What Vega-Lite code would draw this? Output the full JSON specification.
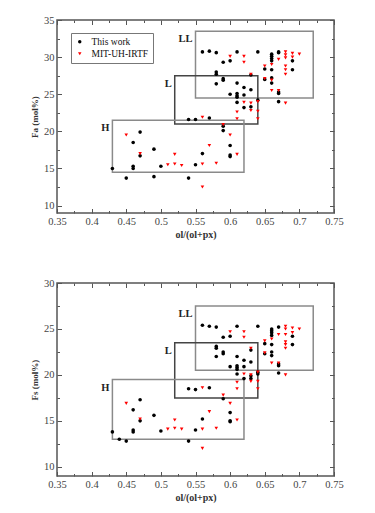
{
  "$schema": "https://vega.github.io/schema/vega-lite/v6.json",
  "background": "white",
  "padding": {"left": 29, "top": 14, "right": 5, "bottom": 5},
  "spacing": 36,
  "datasets": {
    "boxes": [
      {"panel": "Fa", "name": "LL", "x1": 0.55, "x2": 0.72, "y1": 24.5, "y2": 33.5},
      {"panel": "Fa", "name": "L", "x1": 0.52, "x2": 0.64, "y1": 21, "y2": 27.5},
      {"panel": "Fa", "name": "H", "x1": 0.43, "x2": 0.62, "y1": 14.5, "y2": 21.5},
      {"panel": "Fs", "name": "LL", "x1": 0.55, "x2": 0.72, "y1": 20.5, "y2": 27.5},
      {"panel": "Fs", "name": "L", "x1": 0.52, "x2": 0.64, "y1": 17.5, "y2": 23.5},
      {"panel": "Fs", "name": "H", "x1": 0.43, "x2": 0.62, "y1": 13, "y2": 19.5}
    ],
    "pts": [
      {"panel":"Fa","src":"This work","x":0.43,"y":15.0},
      {"panel":"Fa","src":"This work","x":0.45,"y":13.7},
      {"panel":"Fa","src":"This work","x":0.46,"y":18.5},
      {"panel":"Fa","src":"This work","x":0.46,"y":15.3},
      {"panel":"Fa","src":"This work","x":0.46,"y":15.0},
      {"panel":"Fa","src":"This work","x":0.47,"y":19.9},
      {"panel":"Fa","src":"This work","x":0.47,"y":16.7},
      {"panel":"Fa","src":"This work","x":0.49,"y":17.6},
      {"panel":"Fa","src":"This work","x":0.49,"y":13.9},
      {"panel":"Fa","src":"This work","x":0.50,"y":15.3},
      {"panel":"Fa","src":"This work","x":0.54,"y":13.7},
      {"panel":"Fa","src":"This work","x":0.54,"y":21.6},
      {"panel":"Fa","src":"This work","x":0.55,"y":21.6},
      {"panel":"Fa","src":"This work","x":0.55,"y":15.5},
      {"panel":"Fa","src":"This work","x":0.56,"y":30.7},
      {"panel":"Fa","src":"This work","x":0.56,"y":17.0},
      {"panel":"Fa","src":"This work","x":0.57,"y":30.8},
      {"panel":"Fa","src":"This work","x":0.57,"y":21.8},
      {"panel":"Fa","src":"This work","x":0.58,"y":30.6},
      {"panel":"Fa","src":"This work","x":0.58,"y":28.0},
      {"panel":"Fa","src":"This work","x":0.58,"y":27.7},
      {"panel":"Fa","src":"This work","x":0.58,"y":26.4},
      {"panel":"Fa","src":"This work","x":0.59,"y":29.3},
      {"panel":"Fa","src":"This work","x":0.59,"y":27.1},
      {"panel":"Fa","src":"This work","x":0.59,"y":26.9},
      {"panel":"Fa","src":"This work","x":0.59,"y":20.7},
      {"panel":"Fa","src":"This work","x":0.59,"y":20.1},
      {"panel":"Fa","src":"This work","x":0.60,"y":29.5},
      {"panel":"Fa","src":"This work","x":0.60,"y":25.0},
      {"panel":"Fa","src":"This work","x":0.60,"y":18.1},
      {"panel":"Fa","src":"This work","x":0.60,"y":16.8},
      {"panel":"Fa","src":"This work","x":0.60,"y":16.6},
      {"panel":"Fa","src":"This work","x":0.61,"y":30.7},
      {"panel":"Fa","src":"This work","x":0.61,"y":26.5},
      {"panel":"Fa","src":"This work","x":0.61,"y":25.1},
      {"panel":"Fa","src":"This work","x":0.61,"y":24.8},
      {"panel":"Fa","src":"This work","x":0.61,"y":24.6},
      {"panel":"Fa","src":"This work","x":0.61,"y":23.9},
      {"panel":"Fa","src":"This work","x":0.62,"y":25.9},
      {"panel":"Fa","src":"This work","x":0.62,"y":24.9},
      {"panel":"Fa","src":"This work","x":0.62,"y":23.2},
      {"panel":"Fa","src":"This work","x":0.63,"y":27.6},
      {"panel":"Fa","src":"This work","x":0.63,"y":25.6},
      {"panel":"Fa","src":"This work","x":0.63,"y":23.3},
      {"panel":"Fa","src":"This work","x":0.64,"y":30.7},
      {"panel":"Fa","src":"This work","x":0.64,"y":24.2},
      {"panel":"Fa","src":"This work","x":0.65,"y":28.4},
      {"panel":"Fa","src":"This work","x":0.65,"y":27.0},
      {"panel":"Fa","src":"This work","x":0.66,"y":30.4},
      {"panel":"Fa","src":"This work","x":0.66,"y":30.1},
      {"panel":"Fa","src":"This work","x":0.66,"y":29.8},
      {"panel":"Fa","src":"This work","x":0.66,"y":29.5},
      {"panel":"Fa","src":"This work","x":0.66,"y":28.3},
      {"panel":"Fa","src":"This work","x":0.66,"y":27.2},
      {"panel":"Fa","src":"This work","x":0.66,"y":26.5},
      {"panel":"Fa","src":"This work","x":0.67,"y":30.7},
      {"panel":"Fa","src":"This work","x":0.67,"y":30.6},
      {"panel":"Fa","src":"This work","x":0.67,"y":25.3},
      {"panel":"Fa","src":"This work","x":0.67,"y":25.1},
      {"panel":"Fa","src":"This work","x":0.67,"y":24.0},
      {"panel":"Fa","src":"This work","x":0.69,"y":29.5},
      {"panel":"Fa","src":"This work","x":0.69,"y":28.3},
      {"panel":"Fa","src":"MIT-UH-IRTF","x":0.45,"y":19.5},
      {"panel":"Fa","src":"MIT-UH-IRTF","x":0.47,"y":17.0},
      {"panel":"Fa","src":"MIT-UH-IRTF","x":0.51,"y":15.5},
      {"panel":"Fa","src":"MIT-UH-IRTF","x":0.52,"y":16.9},
      {"panel":"Fa","src":"MIT-UH-IRTF","x":0.52,"y":15.6},
      {"panel":"Fa","src":"MIT-UH-IRTF","x":0.53,"y":15.4},
      {"panel":"Fa","src":"MIT-UH-IRTF","x":0.56,"y":21.9},
      {"panel":"Fa","src":"MIT-UH-IRTF","x":0.56,"y":15.6},
      {"panel":"Fa","src":"MIT-UH-IRTF","x":0.56,"y":12.5},
      {"panel":"Fa","src":"MIT-UH-IRTF","x":0.57,"y":18.1},
      {"panel":"Fa","src":"MIT-UH-IRTF","x":0.58,"y":15.7},
      {"panel":"Fa","src":"MIT-UH-IRTF","x":0.59,"y":20.9},
      {"panel":"Fa","src":"MIT-UH-IRTF","x":0.60,"y":30.1},
      {"panel":"Fa","src":"MIT-UH-IRTF","x":0.60,"y":19.5},
      {"panel":"Fa","src":"MIT-UH-IRTF","x":0.61,"y":22.6},
      {"panel":"Fa","src":"MIT-UH-IRTF","x":0.61,"y":21.7},
      {"panel":"Fa","src":"MIT-UH-IRTF","x":0.61,"y":16.9},
      {"panel":"Fa","src":"MIT-UH-IRTF","x":0.62,"y":30.1},
      {"panel":"Fa","src":"MIT-UH-IRTF","x":0.62,"y":29.3},
      {"panel":"Fa","src":"MIT-UH-IRTF","x":0.62,"y":23.9},
      {"panel":"Fa","src":"MIT-UH-IRTF","x":0.63,"y":27.7},
      {"panel":"Fa","src":"MIT-UH-IRTF","x":0.63,"y":23.8},
      {"panel":"Fa","src":"MIT-UH-IRTF","x":0.63,"y":22.8},
      {"panel":"Fa","src":"MIT-UH-IRTF","x":0.64,"y":24.0},
      {"panel":"Fa","src":"MIT-UH-IRTF","x":0.64,"y":22.7},
      {"panel":"Fa","src":"MIT-UH-IRTF","x":0.64,"y":21.7},
      {"panel":"Fa","src":"MIT-UH-IRTF","x":0.65,"y":28.8},
      {"panel":"Fa","src":"MIT-UH-IRTF","x":0.65,"y":27.1},
      {"panel":"Fa","src":"MIT-UH-IRTF","x":0.66,"y":29.0},
      {"panel":"Fa","src":"MIT-UH-IRTF","x":0.66,"y":26.9},
      {"panel":"Fa","src":"MIT-UH-IRTF","x":0.66,"y":25.5},
      {"panel":"Fa","src":"MIT-UH-IRTF","x":0.67,"y":29.7},
      {"panel":"Fa","src":"MIT-UH-IRTF","x":0.67,"y":25.5},
      {"panel":"Fa","src":"MIT-UH-IRTF","x":0.68,"y":30.7},
      {"panel":"Fa","src":"MIT-UH-IRTF","x":0.68,"y":30.3},
      {"panel":"Fa","src":"MIT-UH-IRTF","x":0.68,"y":29.9},
      {"panel":"Fa","src":"MIT-UH-IRTF","x":0.68,"y":28.8},
      {"panel":"Fa","src":"MIT-UH-IRTF","x":0.68,"y":28.3},
      {"panel":"Fa","src":"MIT-UH-IRTF","x":0.68,"y":27.7},
      {"panel":"Fa","src":"MIT-UH-IRTF","x":0.68,"y":23.8},
      {"panel":"Fa","src":"MIT-UH-IRTF","x":0.69,"y":30.5},
      {"panel":"Fa","src":"MIT-UH-IRTF","x":0.69,"y":30.0},
      {"panel":"Fa","src":"MIT-UH-IRTF","x":0.70,"y":30.4},
      {"panel":"Fs","src":"This work","x":0.43,"y":13.8},
      {"panel":"Fs","src":"This work","x":0.44,"y":13.0},
      {"panel":"Fs","src":"This work","x":0.45,"y":12.8},
      {"panel":"Fs","src":"This work","x":0.46,"y":16.2},
      {"panel":"Fs","src":"This work","x":0.46,"y":14.0},
      {"panel":"Fs","src":"This work","x":0.46,"y":13.8},
      {"panel":"Fs","src":"This work","x":0.47,"y":17.3},
      {"panel":"Fs","src":"This work","x":0.47,"y":15.0},
      {"panel":"Fs","src":"This work","x":0.49,"y":15.6},
      {"panel":"Fs","src":"This work","x":0.50,"y":13.9},
      {"panel":"Fs","src":"This work","x":0.54,"y":18.5},
      {"panel":"Fs","src":"This work","x":0.54,"y":12.8},
      {"panel":"Fs","src":"This work","x":0.55,"y":18.4},
      {"panel":"Fs","src":"This work","x":0.55,"y":14.0},
      {"panel":"Fs","src":"This work","x":0.56,"y":25.4},
      {"panel":"Fs","src":"This work","x":0.56,"y":15.2},
      {"panel":"Fs","src":"This work","x":0.57,"y":25.3},
      {"panel":"Fs","src":"This work","x":0.57,"y":18.6},
      {"panel":"Fs","src":"This work","x":0.58,"y":25.2},
      {"panel":"Fs","src":"This work","x":0.58,"y":23.1},
      {"panel":"Fs","src":"This work","x":0.58,"y":22.9},
      {"panel":"Fs","src":"This work","x":0.58,"y":22.0},
      {"panel":"Fs","src":"This work","x":0.59,"y":24.1},
      {"panel":"Fs","src":"This work","x":0.59,"y":22.5},
      {"panel":"Fs","src":"This work","x":0.59,"y":22.3},
      {"panel":"Fs","src":"This work","x":0.59,"y":17.4},
      {"panel":"Fs","src":"This work","x":0.60,"y":24.2},
      {"panel":"Fs","src":"This work","x":0.60,"y":20.9},
      {"panel":"Fs","src":"This work","x":0.60,"y":15.9},
      {"panel":"Fs","src":"This work","x":0.60,"y":15.0},
      {"panel":"Fs","src":"This work","x":0.60,"y":14.9},
      {"panel":"Fs","src":"This work","x":0.61,"y":25.3},
      {"panel":"Fs","src":"This work","x":0.61,"y":22.0},
      {"panel":"Fs","src":"This work","x":0.61,"y":21.0},
      {"panel":"Fs","src":"This work","x":0.61,"y":20.8},
      {"panel":"Fs","src":"This work","x":0.61,"y":20.6},
      {"panel":"Fs","src":"This work","x":0.61,"y":20.1},
      {"panel":"Fs","src":"This work","x":0.62,"y":21.6},
      {"panel":"Fs","src":"This work","x":0.62,"y":20.9},
      {"panel":"Fs","src":"This work","x":0.62,"y":19.6},
      {"panel":"Fs","src":"This work","x":0.63,"y":22.7},
      {"panel":"Fs","src":"This work","x":0.63,"y":21.4},
      {"panel":"Fs","src":"This work","x":0.63,"y":19.9},
      {"panel":"Fs","src":"This work","x":0.63,"y":19.6},
      {"panel":"Fs","src":"This work","x":0.64,"y":25.3},
      {"panel":"Fs","src":"This work","x":0.64,"y":20.3},
      {"panel":"Fs","src":"This work","x":0.64,"y":20.1},
      {"panel":"Fs","src":"This work","x":0.65,"y":23.4},
      {"panel":"Fs","src":"This work","x":0.65,"y":22.3},
      {"panel":"Fs","src":"This work","x":0.66,"y":25.0},
      {"panel":"Fs","src":"This work","x":0.66,"y":24.8},
      {"panel":"Fs","src":"This work","x":0.66,"y":24.6},
      {"panel":"Fs","src":"This work","x":0.66,"y":24.3},
      {"panel":"Fs","src":"This work","x":0.66,"y":23.3},
      {"panel":"Fs","src":"This work","x":0.66,"y":22.5},
      {"panel":"Fs","src":"This work","x":0.66,"y":22.1},
      {"panel":"Fs","src":"This work","x":0.67,"y":25.2},
      {"panel":"Fs","src":"This work","x":0.67,"y":21.2},
      {"panel":"Fs","src":"This work","x":0.67,"y":21.0},
      {"panel":"Fs","src":"This work","x":0.67,"y":20.2},
      {"panel":"Fs","src":"This work","x":0.69,"y":24.2},
      {"panel":"Fs","src":"This work","x":0.69,"y":23.3},
      {"panel":"Fs","src":"MIT-UH-IRTF","x":0.45,"y":16.9},
      {"panel":"Fs","src":"MIT-UH-IRTF","x":0.47,"y":15.2},
      {"panel":"Fs","src":"MIT-UH-IRTF","x":0.51,"y":14.1},
      {"panel":"Fs","src":"MIT-UH-IRTF","x":0.52,"y":15.1},
      {"panel":"Fs","src":"MIT-UH-IRTF","x":0.52,"y":14.2},
      {"panel":"Fs","src":"MIT-UH-IRTF","x":0.53,"y":14.1},
      {"panel":"Fs","src":"MIT-UH-IRTF","x":0.56,"y":18.6},
      {"panel":"Fs","src":"MIT-UH-IRTF","x":0.56,"y":14.1},
      {"panel":"Fs","src":"MIT-UH-IRTF","x":0.56,"y":12.0},
      {"panel":"Fs","src":"MIT-UH-IRTF","x":0.57,"y":16.0},
      {"panel":"Fs","src":"MIT-UH-IRTF","x":0.58,"y":14.2},
      {"panel":"Fs","src":"MIT-UH-IRTF","x":0.59,"y":17.8},
      {"panel":"Fs","src":"MIT-UH-IRTF","x":0.60,"y":24.7},
      {"panel":"Fs","src":"MIT-UH-IRTF","x":0.60,"y":16.9},
      {"panel":"Fs","src":"MIT-UH-IRTF","x":0.61,"y":19.2},
      {"panel":"Fs","src":"MIT-UH-IRTF","x":0.61,"y":18.5},
      {"panel":"Fs","src":"MIT-UH-IRTF","x":0.61,"y":15.1},
      {"panel":"Fs","src":"MIT-UH-IRTF","x":0.62,"y":24.7},
      {"panel":"Fs","src":"MIT-UH-IRTF","x":0.62,"y":24.1},
      {"panel":"Fs","src":"MIT-UH-IRTF","x":0.62,"y":20.1},
      {"panel":"Fs","src":"MIT-UH-IRTF","x":0.63,"y":22.9},
      {"panel":"Fs","src":"MIT-UH-IRTF","x":0.63,"y":20.0},
      {"panel":"Fs","src":"MIT-UH-IRTF","x":0.63,"y":19.3},
      {"panel":"Fs","src":"MIT-UH-IRTF","x":0.64,"y":20.3},
      {"panel":"Fs","src":"MIT-UH-IRTF","x":0.64,"y":19.3},
      {"panel":"Fs","src":"MIT-UH-IRTF","x":0.64,"y":18.5},
      {"panel":"Fs","src":"MIT-UH-IRTF","x":0.65,"y":23.7},
      {"panel":"Fs","src":"MIT-UH-IRTF","x":0.65,"y":22.4},
      {"panel":"Fs","src":"MIT-UH-IRTF","x":0.66,"y":23.9},
      {"panel":"Fs","src":"MIT-UH-IRTF","x":0.66,"y":21.3},
      {"panel":"Fs","src":"MIT-UH-IRTF","x":0.67,"y":24.4},
      {"panel":"Fs","src":"MIT-UH-IRTF","x":0.67,"y":21.3},
      {"panel":"Fs","src":"MIT-UH-IRTF","x":0.68,"y":25.3},
      {"panel":"Fs","src":"MIT-UH-IRTF","x":0.68,"y":25.0},
      {"panel":"Fs","src":"MIT-UH-IRTF","x":0.68,"y":24.4},
      {"panel":"Fs","src":"MIT-UH-IRTF","x":0.68,"y":23.6},
      {"panel":"Fs","src":"MIT-UH-IRTF","x":0.68,"y":23.3},
      {"panel":"Fs","src":"MIT-UH-IRTF","x":0.68,"y":22.9},
      {"panel":"Fs","src":"MIT-UH-IRTF","x":0.68,"y":20.0},
      {"panel":"Fs","src":"MIT-UH-IRTF","x":0.69,"y":25.1},
      {"panel":"Fs","src":"MIT-UH-IRTF","x":0.69,"y":24.6},
      {"panel":"Fs","src":"MIT-UH-IRTF","x":0.70,"y":25.0}
    ]
  },
  "resolve": {"scale": {"color": "independent", "shape": "independent"}, "legend": {"color": "independent", "shape": "independent"}},
  "vconcat": [
    {
      "width": 277,
      "height": 193,
      "resolve": {"axis": {"x": "independent", "y": "independent"}},
      "layer": [
        {
          "data": {"name": "boxes"},
          "transform": [{"filter": "datum.panel === 'Fa'"}],
          "mark": {"type": "rect", "filled": false, "strokeWidth": 1.5},
          "encoding": {
            "x": {"field": "x1", "type": "quantitative", "scale": {"domain": [0.35, 0.75], "nice": false, "zero": false},
              "axis": {"orient": "top", "labels": false, "title": null, "values": [0.35,0.375,0.4,0.425,0.45,0.475,0.5,0.525,0.55,0.575,0.6,0.625,0.65,0.675,0.7,0.725,0.75],
                "tickSize": {"condition": {"test": "round(datum.value*1000) % 50 === 0", "value": -4.5}, "value": -2.5}}},
            "x2": {"field": "x2"},
            "y": {"field": "y1", "type": "quantitative", "scale": {"domain": [9, 35], "nice": false, "zero": false},
              "axis": {"orient": "right", "labels": false, "title": null, "values": [10,12.5,15,17.5,20,22.5,25,27.5,30,32.5,35],
                "tickSize": {"condition": {"test": "datum.value % 5 === 0", "value": -4.5}, "value": -2.5}}},
            "y2": {"field": "y2"},
            "stroke": {"condition": {"test": "datum.name === 'L'", "value": "#444444"}, "value": "#8a8a8a"}
          }
        },
        {
          "data": {"name": "boxes"},
          "transform": [{"filter": "datum.panel === 'Fa'"}],
          "mark": {"type": "text", "align": "right", "baseline": "middle", "dx": -3, "dy": 8, "font": "Liberation Serif", "fontWeight": "bold", "fontSize": 10.5, "color": "#222"},
          "encoding": {
            "x": {"field": "x1", "type": "quantitative", "axis": null},
            "y": {"field": "y2", "type": "quantitative", "axis": null},
            "text": {"field": "name"}
          }
        },
        {
          "data": {"name": "pts"},
          "transform": [{"filter": "datum.panel === 'Fa'"}],
          "mark": {"type": "point", "filled": true, "size": 13, "opacity": 1},
          "encoding": {
            "x": {"field": "x", "type": "quantitative",
              "axis": {"orient": "bottom", "title": "ol/(ol+px)", "values": [0.35,0.375,0.4,0.425,0.45,0.475,0.5,0.525,0.55,0.575,0.6,0.625,0.65,0.675,0.7,0.725,0.75],
                "labelExpr": "round(datum.value*1000) % 50 === 0 ? format(datum.value, '~g') : ''",
                "tickSize": {"condition": {"test": "round(datum.value*1000) % 50 === 0", "value": -4.5}, "value": -2.5},
                "labelPadding": 7.5, "titlePadding": 1, "titleFontSize": 10}},
            "y": {"field": "y", "type": "quantitative",
              "axis": {"orient": "left", "title": "Fa (mol%)", "values": [10,12.5,15,17.5,20,22.5,25,27.5,30,32.5,35],
                "labelExpr": "datum.value % 5 === 0 ? format(datum.value, 'd') : ''",
                "tickSize": {"condition": {"test": "datum.value % 5 === 0", "value": -4.5}, "value": -2.5},
                "labelPadding": 7.5, "titlePadding": 4, "titleFontSize": 9}},
            "color": {"field": "src", "type": "nominal", "scale": {"domain": ["This work", "MIT-UH-IRTF"], "range": ["#000000", "#ff0000"]},
              "legend": {"orient": "none", "legendX": 14, "legendY": 13, "title": null, "labelFont": "Liberation Serif", "labelFontSize": 9.5, "labelColor": "#111", "symbolSize": 12, "strokeColor": "#777", "fillColor": "white", "padding": 4, "rowPadding": 1, "labelOffset": 7}},
            "shape": {"field": "src", "type": "nominal", "scale": {"domain": ["This work", "MIT-UH-IRTF"], "range": ["circle", "triangle-down"]},
              "legend": {"orient": "none", "legendX": 14, "legendY": 13, "title": null, "labelFont": "Liberation Serif", "labelFontSize": 9.5, "labelColor": "#111", "symbolSize": 12, "strokeColor": "#777", "fillColor": "white", "padding": 4, "rowPadding": 1, "labelOffset": 7}}
          }
        }
      ]
    },
    {
      "width": 277,
      "height": 193,
      "resolve": {"axis": {"x": "independent", "y": "independent"}},
      "layer": [
        {
          "data": {"name": "boxes"},
          "transform": [{"filter": "datum.panel === 'Fs'"}],
          "mark": {"type": "rect", "filled": false, "strokeWidth": 1.5},
          "encoding": {
            "x": {"field": "x1", "type": "quantitative", "scale": {"domain": [0.35, 0.75], "nice": false, "zero": false},
              "axis": {"orient": "top", "labels": false, "title": null, "values": [0.35,0.375,0.4,0.425,0.45,0.475,0.5,0.525,0.55,0.575,0.6,0.625,0.65,0.675,0.7,0.725,0.75],
                "tickSize": {"condition": {"test": "round(datum.value*1000) % 50 === 0", "value": -4.5}, "value": -2.5}}},
            "x2": {"field": "x2"},
            "y": {"field": "y1", "type": "quantitative", "scale": {"domain": [9, 30], "nice": false, "zero": false},
              "axis": {"orient": "right", "labels": false, "title": null, "values": [10,12.5,15,17.5,20,22.5,25,27.5,30],
                "tickSize": {"condition": {"test": "datum.value % 5 === 0", "value": -4.5}, "value": -2.5}}},
            "y2": {"field": "y2"},
            "stroke": {"condition": {"test": "datum.name === 'L'", "value": "#444444"}, "value": "#8a8a8a"}
          }
        },
        {
          "data": {"name": "boxes"},
          "transform": [{"filter": "datum.panel === 'Fs'"}],
          "mark": {"type": "text", "align": "right", "baseline": "middle", "dx": -3, "dy": 8, "font": "Liberation Serif", "fontWeight": "bold", "fontSize": 10.5, "color": "#222"},
          "encoding": {
            "x": {"field": "x1", "type": "quantitative", "axis": null},
            "y": {"field": "y2", "type": "quantitative", "axis": null},
            "text": {"field": "name"}
          }
        },
        {
          "data": {"name": "pts"},
          "transform": [{"filter": "datum.panel === 'Fs'"}],
          "mark": {"type": "point", "filled": true, "size": 13, "opacity": 1},
          "encoding": {
            "x": {"field": "x", "type": "quantitative",
              "axis": {"orient": "bottom", "title": "ol/(ol+px)", "values": [0.35,0.375,0.4,0.425,0.45,0.475,0.5,0.525,0.55,0.575,0.6,0.625,0.65,0.675,0.7,0.725,0.75],
                "labelExpr": "round(datum.value*1000) % 50 === 0 ? format(datum.value, '~g') : ''",
                "tickSize": {"condition": {"test": "round(datum.value*1000) % 50 === 0", "value": -4.5}, "value": -2.5},
                "labelPadding": 7.5, "titlePadding": 1, "titleFontSize": 10}},
            "y": {"field": "y", "type": "quantitative",
              "axis": {"orient": "left", "title": "Fs (mol%)", "values": [10,12.5,15,17.5,20,22.5,25,27.5,30],
                "labelExpr": "datum.value % 5 === 0 ? format(datum.value, 'd') : ''",
                "tickSize": {"condition": {"test": "datum.value % 5 === 0", "value": -4.5}, "value": -2.5},
                "labelPadding": 7.5, "titlePadding": 4, "titleFontSize": 9}},
            "color": {"field": "src", "type": "nominal", "scale": {"domain": ["This work", "MIT-UH-IRTF"], "range": ["#000000", "#ff0000"]}, "legend": null},
            "shape": {"field": "src", "type": "nominal", "scale": {"domain": ["This work", "MIT-UH-IRTF"], "range": ["circle", "triangle-down"]}, "legend": null}
          }
        }
      ]
    }
  ],
  "config": {
    "view": {"stroke": "#555555", "strokeWidth": 1.5},
    "font": "Liberation Serif",
    "axis": {
      "domain": false, "grid": false,
      "labelFont": "Liberation Serif", "labelFontSize": 10.5, "labelColor": "#444444",
      "labelFlush": false, "labelOverlap": false,
      "tickColor": "#555555", "tickWidth": 1,
      "titleFont": "Liberation Serif", "titleFontWeight": "bold", "titleColor": "#333333"
    }
  }
}
